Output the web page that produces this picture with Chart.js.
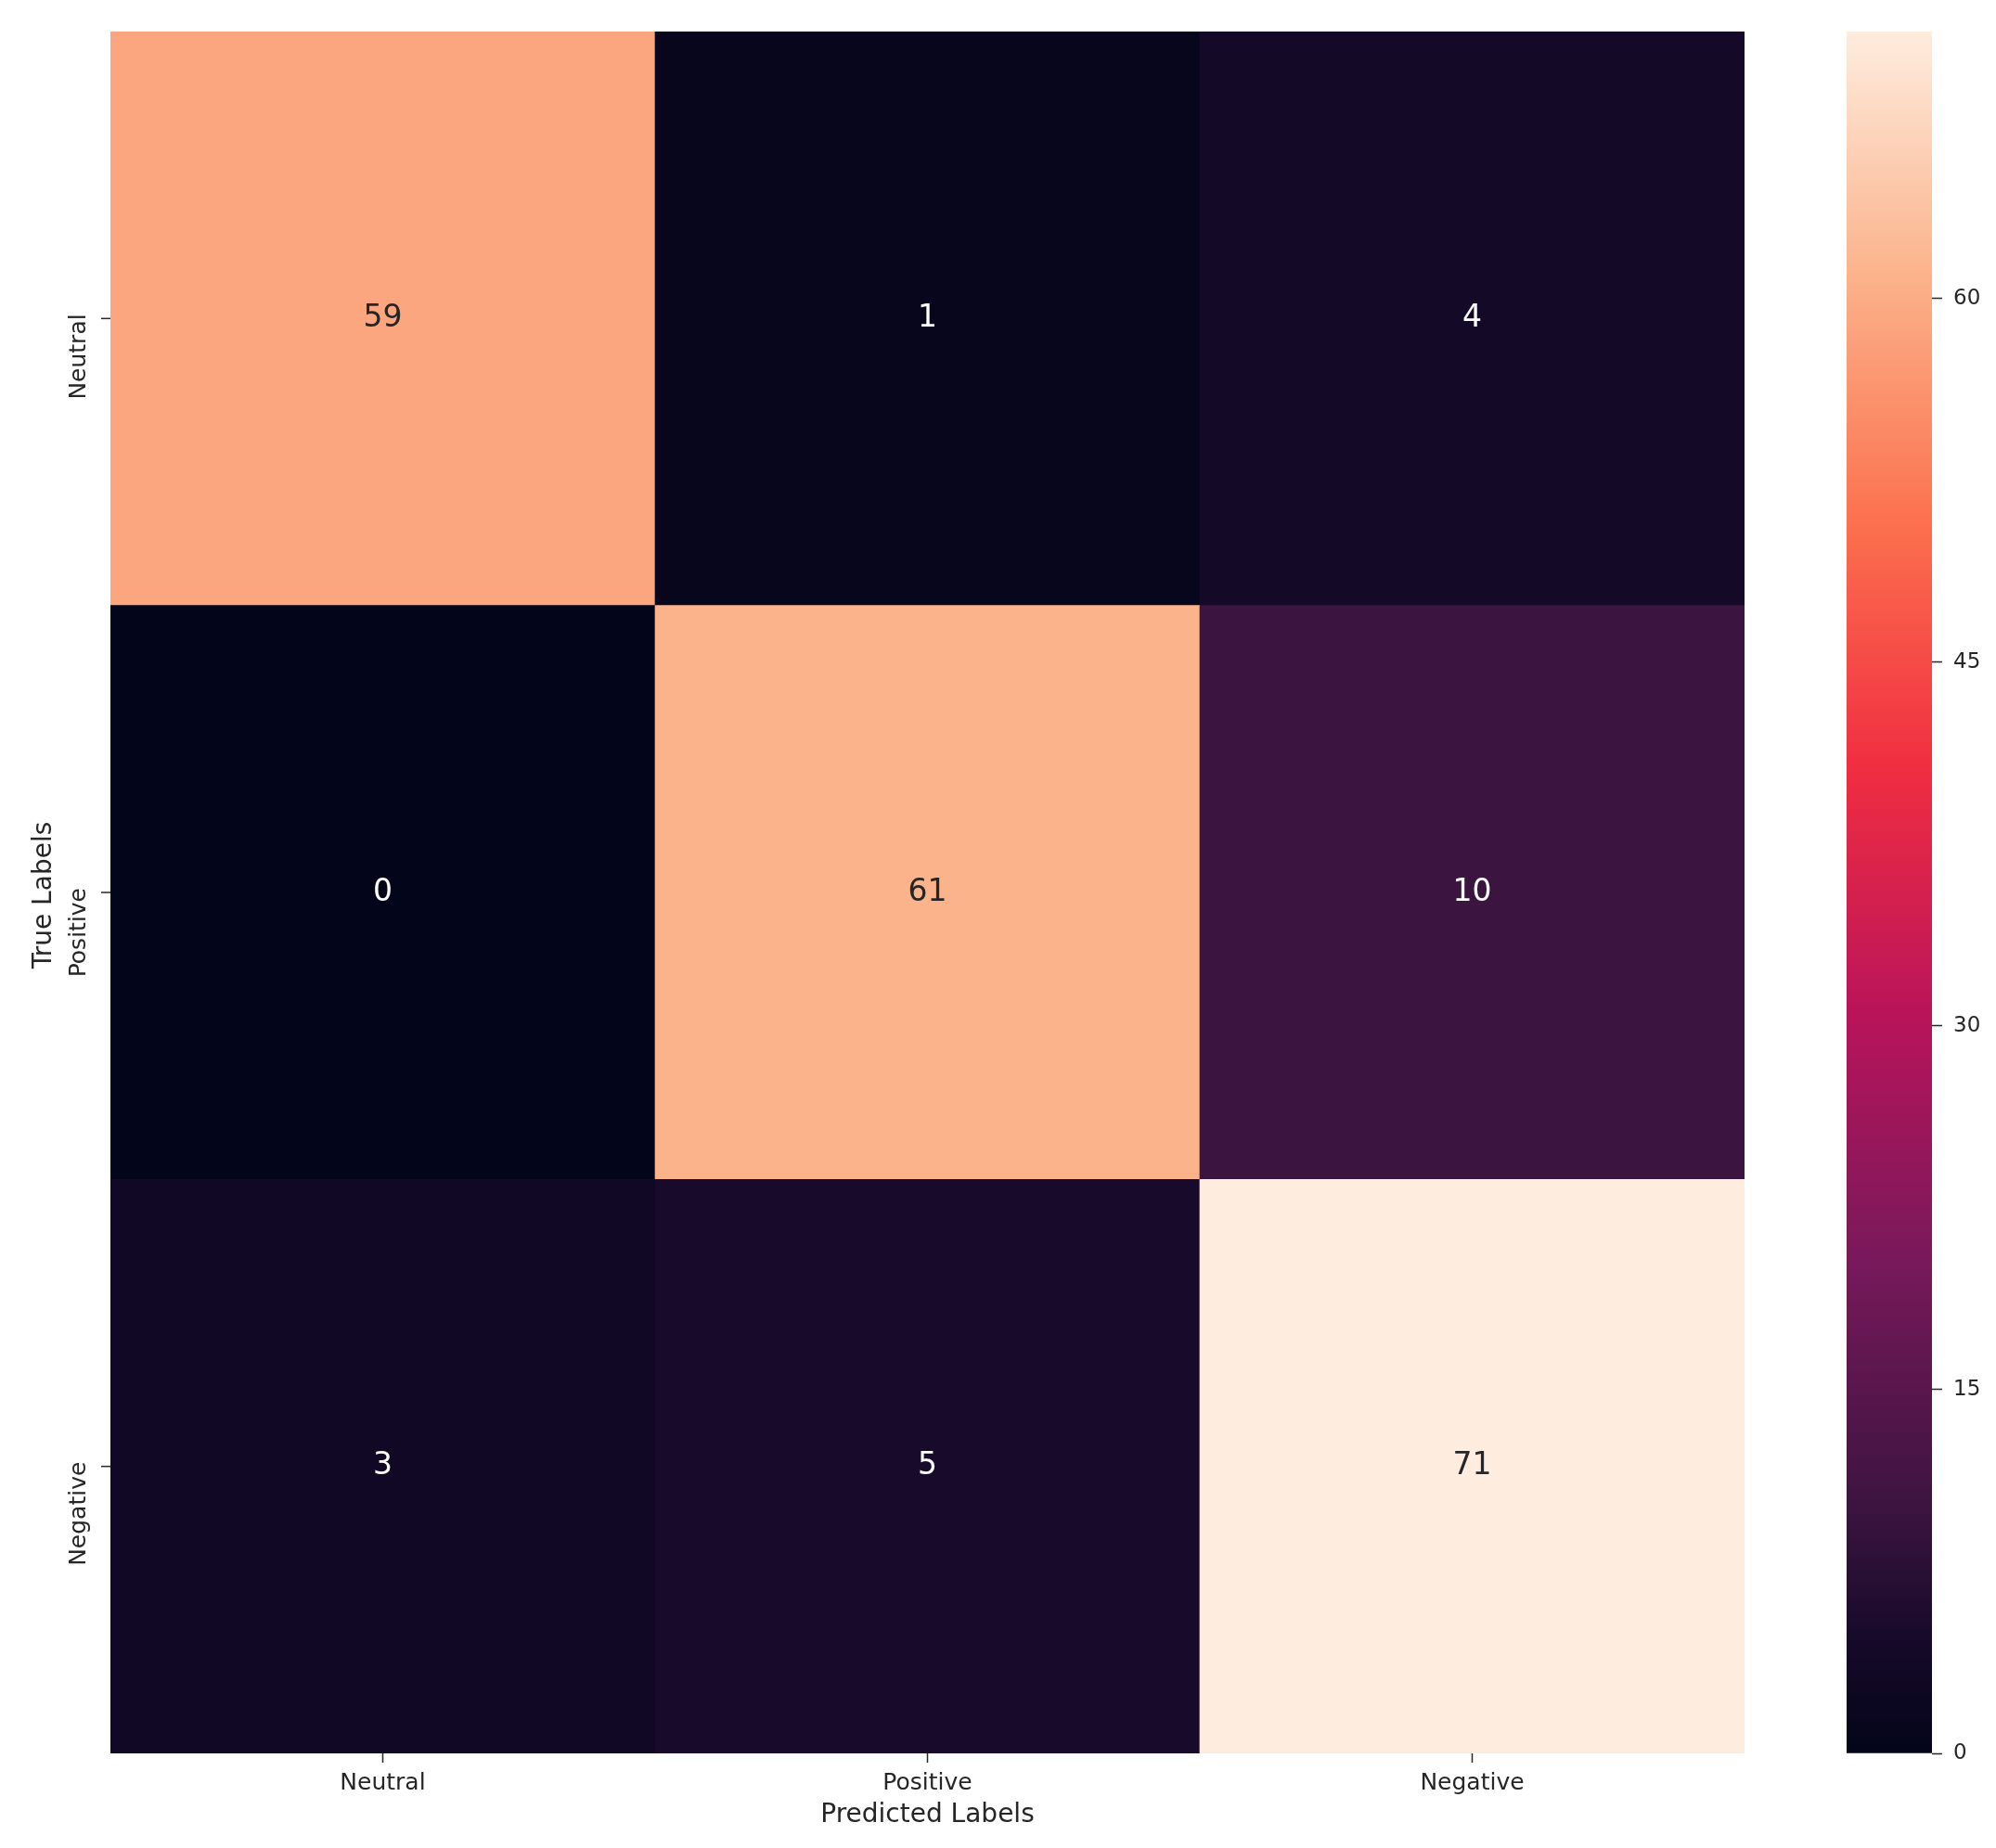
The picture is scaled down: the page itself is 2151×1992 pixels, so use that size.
<!DOCTYPE html>
<html>
<head>
<meta charset="utf-8">
<script src="https://cdn.jsdelivr.net/npm/chart.js@4.4.1/dist/chart.umd.min.js"></script>
<style>
  html, body { margin: 0; padding: 0; background: #fff; }
  #wrap { position: relative; width: 2151px; height: 1992px; }
  #heat { position: absolute; left: 0; top: 0; }
  #cbar { position: absolute; left: 1960px; top: 0; }
</style>
</head>
<body>
<div id="wrap">
  <canvas id="heat" width="1960" height="1992"></canvas>
  <canvas id="cbar" width="191" height="1992"></canvas>
</div>
<script>
// 混淆矩阵数据
const predLabels = ['Neutral', 'Positive', 'Negative'];
const trueLabels = ['Neutral', 'Positive', 'Negative'];
const neutralRow = [59, 1, 4];
const positiveRow = [0, 61, 10];
const negativeRow = [3, 5, 71];
const cbarTicks = [0, 15, 30, 45, 60];

const rows = [neutralRow, positiveRow, negativeRow];
const vmin = 0;
const vmax = Math.max(...rows.flat());

// seaborn "rocket" 色带近似（略提高饱和度以贴近原图）
const rocket = [
  [0.000, [3, 5, 26]],
  [0.070, [24, 10, 42]],
  [0.143, [60, 20, 64]],
  [0.286, [120, 25, 90]],
  [0.429, [185, 20, 90]],
  [0.571, [240, 45, 65]],
  [0.714, [252, 112, 78]],
  [0.857, [251, 178, 138]],
  [1.000, [254, 236, 222]]
];

function rocketRgb(t) {
  t = Math.min(1, Math.max(0, t));
  for (let i = 1; i < rocket.length; i++) {
    const [t1, c1] = rocket[i];
    const [t0, c0] = rocket[i - 1];
    if (t <= t1) {
      const k = (t - t0) / (t1 - t0);
      return c0.map((c, j) => Math.round(c + (c1[j] - c) * k));
    }
  }
  return rocket[rocket.length - 1][1];
}
const cssRgb = c => `rgb(${c[0]},${c[1]},${c[2]})`;
const norm = v => (v - vmin) / (vmax - vmin);

const FONT = '"DejaVu Sans", Verdana, sans-serif';
const INK = '#262626';

// 行从下往上堆叠：Negative 在底部
const datasets = rows.map((row, r) => ({
  label: trueLabels[r],
  data: row.map(() => 1),
  counts: row,
  backgroundColor: row.map(v => cssRgb(rocketRgb(norm(v)))),
  borderWidth: 0,
  barPercentage: 1,
  categoryPercentage: 1
})).reverse();

const cellText = {
  id: 'cellText',
  afterDatasetsDraw(chart) {
    const ctx = chart.ctx;
    ctx.save();
    ctx.font = `33px ${FONT}`;
    ctx.textAlign = 'center';
    ctx.textBaseline = 'middle';
    chart.data.datasets.forEach((ds, i) => {
      chart.getDatasetMeta(i).data.forEach((bar, j) => {
        const v = ds.counts[j];
        const c = rocketRgb(norm(v));
        const lum = (0.2126 * c[0] + 0.7152 * c[1] + 0.0722 * c[2]) / 255;
        ctx.fillStyle = lum > 0.408 ? '#262626' : '#ffffff';
        const p = bar.getCenterPoint();
        ctx.fillText(String(v), p.x, p.y);
      });
    });
    ctx.restore();
  }
};

const heatAxes = {
  id: 'heatAxes',
  afterDraw(chart) {
    const { ctx, chartArea: a, scales: { x, y } } = chart;
    ctx.save();
    ctx.strokeStyle = INK;
    ctx.lineWidth = 1.5;
    ctx.fillStyle = INK;

    // x 轴刻度
    ctx.font = `25px ${FONT}`;
    ctx.textAlign = 'center';
    ctx.textBaseline = 'middle';
    predLabels.forEach((lab, i) => {
      const px = x.getPixelForValue(i);
      ctx.beginPath();
      ctx.moveTo(px, a.bottom);
      ctx.lineTo(px, a.bottom + 10);
      ctx.stroke();
      ctx.fillText(lab, px, a.bottom + 32);
    });

    // y 轴刻度（旋转，文字末端对齐刻度）
    trueLabels.forEach((lab, r) => {
      const py = y.getPixelForValue(trueLabels.length - r - 0.5);
      ctx.beginPath();
      ctx.moveTo(a.left - 10, py);
      ctx.lineTo(a.left, py);
      ctx.stroke();
      ctx.save();
      ctx.translate(a.left - 34, py - 5);
      ctx.rotate(-Math.PI / 2);
      ctx.textAlign = 'right';
      ctx.fillText(lab, 0, 0);
      ctx.restore();
    });

    // 轴标题
    ctx.font = `28px ${FONT}`;
    ctx.fillText('Predicted Labels', (a.left + a.right) / 2, a.bottom + 67);
    ctx.save();
    ctx.translate(a.left - 71, (a.top + a.bottom) / 2 + 3);
    ctx.rotate(-Math.PI / 2);
    ctx.fillText('True Labels', 0, 0);
    ctx.restore();
    ctx.restore();
  }
};

new Chart(document.getElementById('heat'), {
  type: 'bar',
  data: { labels: predLabels, datasets },
  options: {
    responsive: false,
    animation: false,
    devicePixelRatio: 1,
    layout: { padding: { left: 119, top: 34, right: 80, bottom: 102 } },
    plugins: { legend: { display: false }, tooltip: { enabled: false } },
    scales: {
      x: { stacked: true, display: false },
      y: { stacked: true, display: false, min: 0, max: trueLabels.length }
    }
  },
  plugins: [cellText, heatAxes]
});

// 色条
new Chart(document.getElementById('cbar'), {
  type: 'bar',
  data: {
    labels: [''],
    datasets: [{
      data: [vmax],
      borderWidth: 0,
      barPercentage: 1,
      categoryPercentage: 1,
      backgroundColor(c) {
        const { chart } = c;
        const ys = chart.scales.y;
        if (!chart.chartArea || !ys) return '#000';
        const g = chart.ctx.createLinearGradient(0, ys.getPixelForValue(vmin), 0, ys.getPixelForValue(vmax));
        rocket.forEach(([t, col]) => g.addColorStop(t, cssRgb(col)));
        return g;
      }
    }]
  },
  options: {
    responsive: false,
    animation: false,
    devicePixelRatio: 1,
    layout: { padding: { left: 30, top: 34, right: 9, bottom: 102 } },
    plugins: { legend: { display: false }, tooltip: { enabled: false } },
    scales: {
      x: { display: false },
      y: {
        position: 'right',
        min: vmin,
        max: vmax,
        afterBuildTicks(scale) {
          scale.ticks = cbarTicks.map(v => ({ value: v }));
        },
        afterFit(scale) { scale.width = 60; },
        border: { display: false },
        grid: {
          drawOnChartArea: false,
          drawTicks: true,
          tickLength: 11,
          tickWidth: 1.5,
          tickColor: INK
        },
        ticks: {
          padding: 12,
          color: INK,
          font: { family: FONT, size: 23 }
        }
      }
    }
  }
});
</script>
</body>
</html>
